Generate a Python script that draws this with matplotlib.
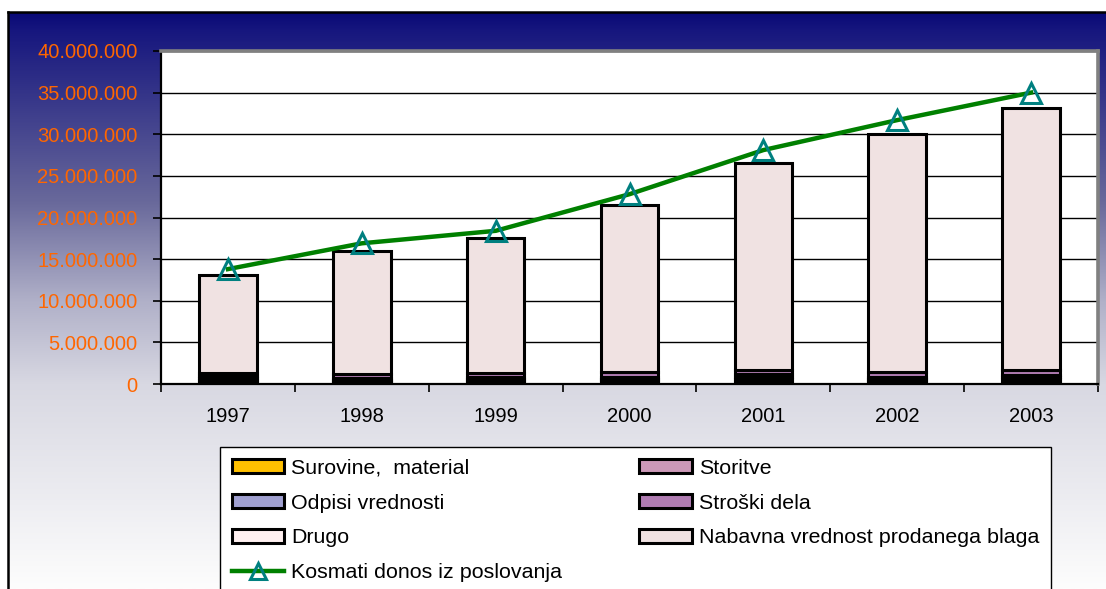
import numpy as np
import matplotlib
matplotlib.use("Agg")
import matplotlib.pyplot as plt
from matplotlib.ticker import FuncFormatter
from matplotlib.patches import Patch
from matplotlib.lines import Line2D

plt.rcParams['font.family'] = ['Liberation Sans', 'DejaVu Sans']

years = ['1997', '1998', '1999', '2000', '2001', '2002', '2003']

# stacked cost components
surovine = [250e3, 200e3, 250e3, 250e3, 300e3, 250e3, 300e3]
odpisi = [200e3, 150e3, 200e3, 200e3, 250e3, 200e3, 250e3]
drugo = [250e3, 150e3, 200e3, 200e3, 300e3, 200e3, 250e3]
storitve = [300e3, 200e3, 250e3, 250e3, 350e3, 250e3, 300e3]
stroski_dela = [300e3, 450e3, 450e3, 600e3, 450e3, 550e3, 600e3]
totals = [13.1e6, 16.0e6, 17.5e6, 21.5e6, 26.5e6, 30.0e6, 33.1e6]
nabavna = [t - a - b - c - d - e for t, a, b, c, d, e in
           zip(totals, surovine, odpisi, drugo, storitve, stroski_dela)]

kosmati = [13.8e6, 16.9e6, 18.4e6, 22.8e6, 28.1e6, 31.7e6, 35.0e6]

series = [
    ('Surovine,  material', surovine, '#ffc000'),
    ('Odpisi vrednosti', odpisi, '#a0a0d0'),
    ('Drugo', drugo, '#fff0f0'),
    ('Storitve', storitve, '#cc99b8'),
    ('Stroški dela', stroski_dela, '#b07cb2'),
    ('Nabavna vrednost prodanega blaga', nabavna, '#f0e2e2'),
]

W, H = 1106, 589
fig = plt.figure(figsize=(W / 100, H / 100), dpi=100)
fig.patch.set_facecolor('white')

# gradient background panel
bg = fig.add_axes([8 / W, 0, 1 - 8 / W, (H - 12) / H], zorder=0)
ys = np.linspace(0, 1, 400)
anchors_t = [0.0, 0.03, 0.33, 0.5, 0.645, 1.0]
anchors_c = np.array([[8, 8, 118], [22, 22, 126], [105, 105, 155],
                      [176, 176, 200], [216, 216, 226], [253, 253, 253]]) / 255
grad = np.stack([np.interp(ys, anchors_t, anchors_c[:, k]) for k in range(3)], axis=1)
bg.imshow(grad[:, None, :], aspect='auto', extent=[0, 1, 1, 0])
bg.set_xlim(0, 1)
bg.set_ylim(1, 0)
bg.set_xticks([])
bg.set_yticks([])
for side in ['right', 'bottom']:
    bg.spines[side].set_visible(False)
for side in ['left', 'top']:
    bg.spines[side].set_linewidth(1.8)
    bg.spines[side].set_color('black')

ax = fig.add_axes([161 / W, (H - 384) / H, 937 / W, 333 / H], zorder=1)
ax.set_facecolor('white')
x = np.arange(len(years))
bottom = np.zeros(len(years))
for name, vals, col in series:
    ax.bar(x, vals, width=0.43, bottom=bottom, color=col, edgecolor='black',
           linewidth=2.2, zorder=2)
    bottom += np.array(vals)

ax.plot(x, kosmati, color='#008000', lw=3.2, zorder=3,
        marker='^', markersize=14, markerfacecolor='none',
        markeredgecolor='#008080', markeredgewidth=2.2)

ax.set_xlim(-0.5, len(years) - 0.5)
ax.set_ylim(0, 40e6)
ax.set_yticks(np.arange(0, 40e6 + 1, 5e6))
ax.yaxis.set_major_formatter(FuncFormatter(lambda v, p: f'{int(v):,}'.replace(',', '.')))
ax.tick_params(axis='y', length=6, width=1.2, colors='black', labelcolor='#ff6600',
               labelsize=14.5, pad=11)
ax.yaxis.grid(True, color='black', lw=1)
ax.set_axisbelow(True)

ax.set_xticks(np.arange(len(years) + 1) - 0.5)
ax.set_xticklabels([])
ax.tick_params(axis='x', which='major', length=6, width=1.2)
ax.set_xticks(x, minor=True)
ax.set_xticklabels(years, minor=True)
ax.tick_params(axis='x', which='minor', length=0, labelsize=14.5, pad=16.5)

ax.spines['left'].set_linewidth(1.6)
ax.spines['bottom'].set_linewidth(1.6)
for side in ['top', 'right']:
    ax.spines[side].set_color('#808080')
    ax.spines[side].set_linewidth(2.6)

handles = [Patch(facecolor=c, edgecolor='black', linewidth=2.2) for _, _, c in series]
names = [n for n, _, _ in series]
line_h = Line2D([], [], color='#008000', lw=3.2, marker='^', markersize=12,
                markerfacecolor='none', markeredgecolor='#008080', markeredgewidth=2.2)
order_h = [handles[0], handles[1], handles[2], line_h, handles[3], handles[4], handles[5]]
order_n = [names[0], names[1], names[2], 'Kosmati donos iz poslovanja',
           names[3], names[4], names[5]]
leg = fig.legend(order_h, order_n, ncol=2, loc='upper left',
                 bbox_to_anchor=(220 / W, 1 - 447 / H), fontsize=15.4,
                 frameon=True, fancybox=False, edgecolor='black', framealpha=1,
                 handlelength=2.45, handleheight=0.65, handletextpad=0.33,
                 columnspacing=3.6, labelspacing=0.74, borderpad=0.55,
                 borderaxespad=0)
leg.get_frame().set_linewidth(1.0)

fig.savefig('out.png', dpi=100)
